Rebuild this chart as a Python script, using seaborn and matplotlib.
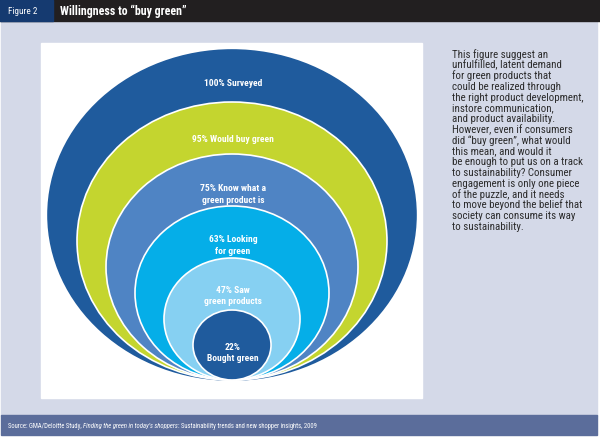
import matplotlib
matplotlib.use("Agg")
import matplotlib.pyplot as plt
from matplotlib.patches import Ellipse, Rectangle
import seaborn as sns

# ---- data ----
percents = [100, 95, 75, 63, 47, 22]
labels = ["100% Surveyed", "95% Would buy green", "75% Know what a\ngreen product is",
          "63% Looking\nfor green", "47% Saw\ngreen products", "22%\nBought green"]
ring_colors = ["#1f5b9d", "#c4d52f", "#4f84c4", "#05aee8", "#86d0f2", "#1f5b9d"]

fig_label = "Figure 2"
title = "Willingness to \u201cbuy green\u201d"
side_lines = ["This figure suggest an", "unfulfilled, latent demand", "for green products that",
              "could be realized through", "the right product development,", "instore communication,",
              "and product availability.", "However, even if consumers", "did \u201cbuy green\u201d, what would",
              "this mean, and would it", "be enough to put us on a track", "to sustainability? Consumer",
              "engagement is only one piece", "of the puzzle, and it needs", "to move beyond the belief that",
              "society can consume its way", "to sustainability."]
source_parts = [("Source: GMA/Deloitte Study, ", "normal"),
                ("Finding the green in today\u2019s shoppers", "italic"),
                (": Sustainability trends and new shopper insights, 2009", "normal")]

# ---- style ----
sns.set_theme(style="white")
plt.rcParams["font.family"] = ["Roboto Condensed", "Archivo Narrow", "Liberation Sans", "DejaVu Sans"]

fig = plt.figure(figsize=(6.0, 4.38), dpi=100)
ax = fig.add_axes([0, 0, 1, 1])
ax.set_xlim(0, 600)
ax.set_ylim(438, 0)
ax.axis("off")
renderer = fig.canvas.get_renderer()
inv = ax.transData.inverted()


def width_of(t):
    bb = t.get_window_extent(renderer=renderer)
    return inv.transform((bb.x1, bb.y0))[0] - inv.transform((bb.x0, bb.y0))[0]


def fit(txt, target, base=10.0, **kw):
    t = ax.text(0, 0, txt, fontsize=base, **kw)
    w = width_of(t)
    t.remove()
    return base * target / w


# page background
ax.add_patch(Rectangle((0, 0), 600, 438, color="white", zorder=0))
ax.add_patch(Rectangle((1, 21), 596, 395, color="#d4d9e8", zorder=0))
# header
ax.add_patch(Rectangle((0, 0), 600, 21, color="#221f20", zorder=1))
ax.add_patch(Rectangle((0, 0), 53, 21, color="#153a70", zorder=2))
ax.text(8, 14.5, fig_label, color="white", fontsize=fit(fig_label, 29), va="baseline", ha="left", zorder=3)
ax.text(60, 15, title, color="white", fontsize=fit(title, 127, fontweight="bold"),
        fontweight="bold", va="baseline", ha="left", zorder=3)
# footer
ax.add_patch(Rectangle((1, 415), 596, 20, color="#5b6d9b", zorder=1))

# white panel
ax.add_patch(Rectangle((41, 43), 381, 355, color="white", zorder=1))

# nested ellipses tangent at bottom
cx, bottom = 232, 380
outer_h, step, aspect = 330, 52, 1.115
label_dy = [33, 37, 40, 39, 37.5, 42.5]
label_size = fit("95% Would buy green", 81, fontweight="bold")
line_gap = 11.5
for i, (p, lab, col) in enumerate(zip(percents, labels, ring_colors)):
    h = outer_h - step * i
    w = h * aspect
    cy = bottom - h / 2
    ax.add_patch(Ellipse((cx, cy), w, h, facecolor=col,
                         edgecolor="white" if i > 0 else col, linewidth=1.2, zorder=2 + i))
    top = bottom - h
    parts = lab.split("\n")
    c = top + label_dy[i]
    for k, part in enumerate(parts):
        yk = c + (k - (len(parts) - 1) / 2) * line_gap + 3.2
        ax.text(cx + 1, yk, part, color="white", fontsize=label_size, fontweight="bold",
                ha="center", va="baseline", zorder=10)

# side text
side_size = fit("the right product development,", 130)
for k, line in enumerate(side_lines):
    ax.text(452.5, 57.5 + k * 10.78, line, color="#2b2b2b", fontsize=side_size,
            ha="left", va="baseline", zorder=3)

# footer source text with italic part, fitted to the reference width
tmp = [ax.text(0, 0, txt, fontsize=6, style=st) for txt, st in source_parts]
total = sum(width_of(t) for t in tmp)
for t in tmp:
    t.remove()
size = 6 * 314.0 / total
x = 8
for txt, st in source_parts:
    t = ax.text(x, 428, txt, color="white", fontsize=size, style=st,
                ha="left", va="baseline", zorder=3)
    x += width_of(t)

fig.savefig("out.png", dpi=100)
